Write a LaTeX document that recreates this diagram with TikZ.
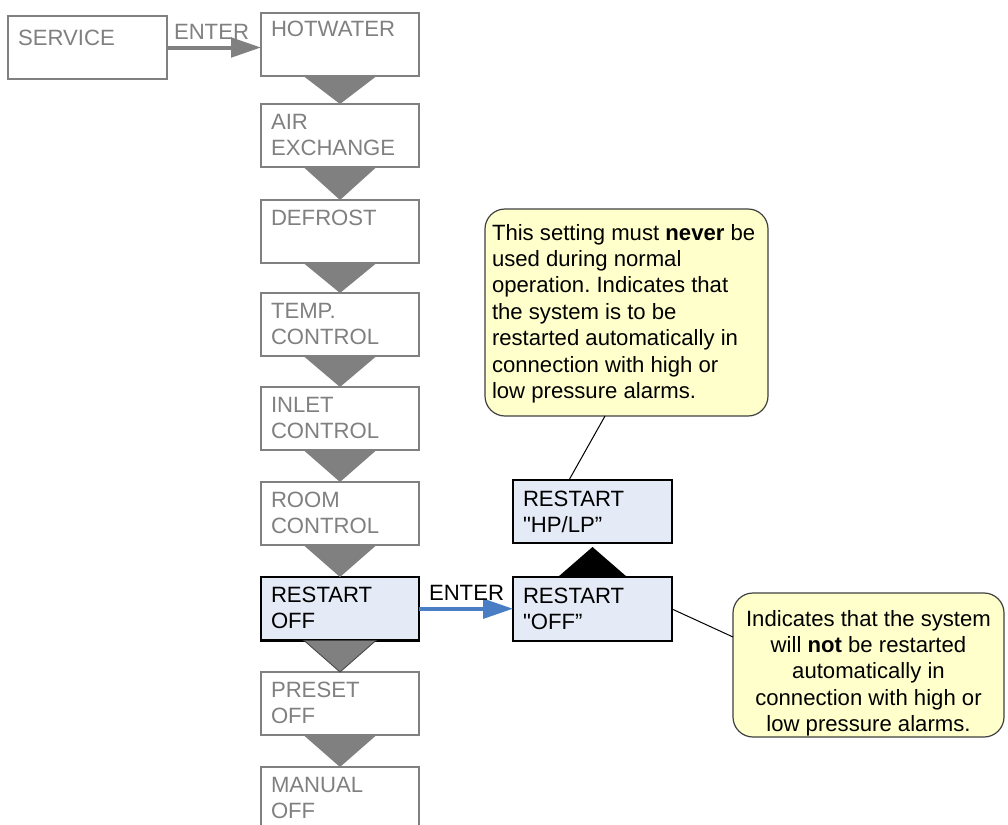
\documentclass[tikz,border=0pt]{standalone}
\usepackage{fontspec}
\setmainfont{Liberation Sans}
\newfontfamily\rawquote{Liberation Sans}
\usetikzlibrary{arrows.meta}
\definecolor{flowgray}{HTML}{808080}
\definecolor{selfill}{HTML}{E4EAF6}
\definecolor{notefill}{HTML}{FFFFCC}
\definecolor{noteedge}{HTML}{404040}
\definecolor{enterblue}{HTML}{4A7EC4}
\newcommand{\sq}{{\rawquote"}}
\frenchspacing

\begin{document}
\begin{tikzpicture}[x=0.75pt,y=-0.75pt,
  every node/.style={font=\fontsize{16.6}{19.8}\selectfont, outer sep=0pt},
  menubox/.style={draw=flowgray, line width=1.5pt, fill=white, anchor=north west,
    inner sep=0pt, minimum width=118.5pt, minimum height=47.6pt},
  activebox/.style={draw=black, line width=2pt, fill=selfill, anchor=north west,
    inner sep=0pt, minimum width=118.5pt, minimum height=47.6pt},
  menutext/.style={anchor=base west, inner sep=0pt, align=left, text=flowgray},
  activetext/.style={anchor=base west, inner sep=0pt, align=left, text=black},
  note/.style={draw=noteedge, line width=0.9pt, fill=notefill, rounded corners=15pt,
    anchor=north west, inner sep=0pt},
  stepdown/.style={fill=flowgray},
  enterarrow/.style={line width=3pt, -{Triangle[length=22.5pt,width=14.5pt]}},
  notelink/.style={draw=black, line width=0.75pt},
]
\useasboundingbox (0,0) rectangle (1008,825);
\clip (0,0) rectangle (1008,825);
\fill[white] (0,0) rectangle (1008,825);

% entry box
\node[menubox, minimum width=119.25pt, minimum height=47.25pt] (service) at (8,16) {};
\node[menutext] (service-t) at (18,45) {SERVICE};

% service menu column
\node[menubox] (hot)     at (261,13)  {};
\node[menubox] (air)     at (261,104) {};
\node[menubox] (defrost) at (261,200) {};
\node[menubox] (temp)    at (261,293) {};
\node[menubox] (inlet)   at (261,387) {};
\node[menubox] (room)    at (261,482) {};
\node[activebox] (loff)  at (261,577) {};
\node[menubox] (preset)  at (261,672) {};
\node[menubox] (manual)  at (261,767) {};

% multi-line labels sit on the baseline of their last line
\node[menutext] (hot-t)     at (271,36)    {HOTWATER};
\node[menutext] (air-t)     at (271,155.4) {AIR\\EXCHANGE};
\node[menutext] (defrost-t) at (271,225)   {DEFROST};
\node[menutext] (temp-t)    at (271,344.4) {TEMP.\\CONTROL};
\node[menutext] (inlet-t)   at (271,438.4) {INLET\\CONTROL};
\node[menutext] (room-t)    at (271,533.4) {ROOM\\CONTROL};
\node[activetext] (loff-t)  at (271,628.4) {RESTART\\OFF};
\node[menutext] (preset-t)  at (271,723.4) {PRESET\\OFF};
\node[menutext] (manual-t)  at (271,818.4) {MANUAL\\OFF};

% step-down markers between menu entries
\foreach \a/\b in {hot/air, air/defrost, defrost/temp, temp/inlet, inlet/room, room/loff, preset/manual}
  \fill[stepdown] ([xshift=-27pt]\a.south) -- ([xshift=27pt]\a.south) -- (\b.north) -- cycle;
\filldraw[stepdown, draw=noteedge, line width=0.6pt]
  ([xshift=-27pt]loff.south) -- ([xshift=27pt]loff.south) -- (preset.north) -- cycle;

% restart options
\node[activebox, minimum width=119.25pt, minimum height=47.25pt] (hplp) at (513,480) {};
\node[activebox, minimum width=119.25pt, minimum height=48pt] (roff) at (513,577) {};
\node[activetext] (hplp-t) at (523,532.4) {RESTART\\\sq HP/LP”};
\node[activetext] (roff-t) at (523,629.4) {RESTART\\\sq OFF”};
\fill[black] ([xshift=-25.9pt]roff.north) -- ([xshift=25.9pt]roff.north)
  -- ([yshift=22.5pt]roff.north) -- cycle;

% ENTER transitions
\draw[enterarrow, draw=flowgray, fill=flowgray] (service.east) -- (service.east -| hot.west);
\node[anchor=base west, inner sep=0pt, text=flowgray] (enter1) at (174,39) {ENTER};
\draw[enterarrow, draw=enterblue, fill=enterblue] (loff.east) -- (loff.east -| roff.west);
\node[anchor=base west, inner sep=0pt] (enter2) at (429,600) {ENTER};

% explanatory notes
\node[note, minimum width=212.25pt, minimum height=155.25pt] (note1) at (485,209) {};
\node[anchor=base west, inner sep=0pt, align=left] (note1-t) at (492,398.4)
  {This setting must \textbf{never} be\\used during normal\\operation. Indicates that\\the system is to be\\restarted automatically in\\connection with high or\\low pressure alarms.};
\draw[notelink] ([xshift=-16.1pt]note1.south) -- ([xshift=-17.6pt]hplp.north);

\node[note, minimum width=203.25pt, minimum height=108pt] (note2) at (733,593) {};
\node[anchor=base, inner sep=0pt, align=center] (note2-t) at (868.5,731.6)
  {Indicates that the system\\will \textbf{not} be restarted\\automatically in\\connection with high or\\low pressure alarms.};
\draw[notelink] (roff.east) -- ([yshift=21pt]note2.west);
\end{tikzpicture}
\end{document}
